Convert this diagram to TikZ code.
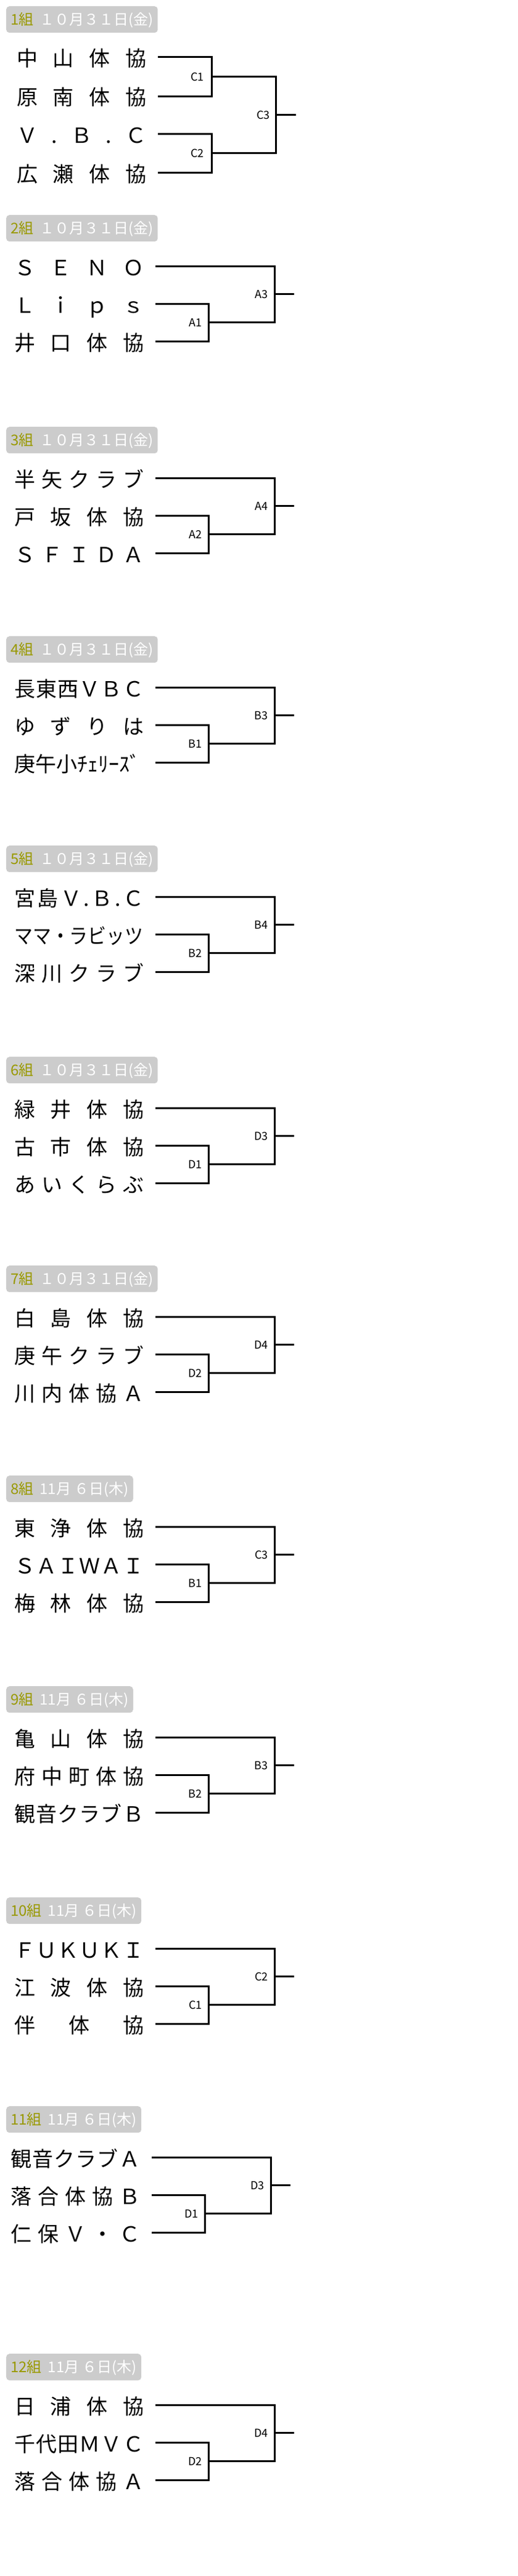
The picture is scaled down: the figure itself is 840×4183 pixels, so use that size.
\documentclass[tikz,border=0pt]{standalone}
\usepackage{fontspec}
\setmainfont{Noto Sans CJK JP}
\usepackage{graphicx}
\usepackage{tikz}
\usetikzlibrary{positioning}

\definecolor{hdrgray}{RGB}{204,204,204}
\definecolor{grpolive}{RGB}{153,153,0}

\tikzset{
	hdr/.style={anchor=north west, fill=hdrgray, rounded corners=5pt, minimum height=43pt, inner xsep=7pt, inner ysep=0pt, text height=21pt, text depth=3pt, text=white, font=\fontsize{24}{24}\selectfont},
	team/.style={anchor=west, inner xsep=19pt, inner ysep=0pt, text height=32pt, text depth=2pt, font=\fontsize{34}{34}\selectfont},
	lbl/.style={inner sep=0pt, font=\fontsize{18}{18}\selectfont},
	br/.style={line width=3pt}
}

\newcommand{\kumi}[1]{\textcolor{grpolive}{#1}\hspace{10pt}}
\newcommand{\nm}[1]{\makebox[210pt][s]{#1}}

% three teams: prefix, x shift, top, header, teams, labels
\newcommand{\sanban}[9]{
	\node[hdr] (#1h) at (10,#3) {#4};
	\node[team] (#1a) at ({4+#2},{#3+83}) {\nm{#5}};
	\node[team] (#1b) at ({4+#2},{#3+144}) {\nm{#6}};
	\node[team] (#1c) at ({4+#2},{#3+205}) {\nm{#7}};
	\coordinate (#1m) at ({338+#2},{#3+174.5});
	\coordinate (#1f) at ({445+#2},{#3+128.75});
	\coordinate (#1o) at ({477+#2},{#3+128.75});
	\draw[br] (#1b.east) -| (#1m) |- (#1c.east);
	\draw[br] (#1m) -| (#1f) |- (#1a.east);
	\draw[br] (#1f) -- (#1o);
	\node[lbl, left=10pt of #1m] (#1p) {#8};
	\node[lbl, left=10pt of #1f] (#1q) {#9};
}

\begin{document}
\begin{tikzpicture}[x=1pt,y=-1pt]
	\useasboundingbox (0,0) rectangle (840,4183);

	% 1組
	\node[hdr] (g1h) at (10,10) {\kumi{1組}１０月３１日(金)};
	\node[team] (g1a) at (8,93) {\nm{中\hfill 山\hfill 体\hfill 協}};
	\node[team] (g1b) at (8,156) {\nm{原\hfill 南\hfill 体\hfill 協}};
	\node[team] (g1c) at (8,217) {\nm{Ｖ\hfill .\hfill Ｂ\hfill .\hfill Ｃ}};
	\node[team] (g1d) at (8,280) {\nm{広\hfill 瀬\hfill 体\hfill 協}};
	\coordinate (g1m) at (343,124.5);
	\coordinate (g1n) at (343,248.5);
	\coordinate (g1f) at (447,186.5);
	\coordinate (g1o) at (480,186.5);
	\draw[br] (g1a.east) -| (g1m) |- (g1b.east);
	\draw[br] (g1c.east) -| (g1n) |- (g1d.east);
	\draw[br] (g1m) -| (g1f) |- (g1n);
	\draw[br] (g1f) -- (g1o);
	\node[lbl, left=12pt of g1m] (g1p) {C1};
	\node[lbl, left=12pt of g1n] (g1r) {C2};
	\node[lbl, left=9pt of g1f] (g1q) {C3};

	% 2組 - 12組
	\sanban{g2}{0}{349}{\kumi{2組}１０月３１日(金)}
		{Ｓ\hfill Ｅ\hfill Ｎ\hfill Ｏ}{Ｌ\hfill ｉ\hfill ｐ\hfill ｓ}{井\hfill 口\hfill 体\hfill 協}{A1}{A3}
	\sanban{g3}{0}{693}{\kumi{3組}１０月３１日(金)}
		{半\hfill 矢\hfill ク\hfill ラ\hfill ブ}{戸\hfill 坂\hfill 体\hfill 協}{Ｓ\hfill Ｆ\hfill Ｉ\hfill Ｄ\hfill Ａ}{A2}{A4}
	\sanban{g4}{0}{1033}{\kumi{4組}１０月３１日(金)}
		{長\hfill 東\hfill 西\hfill Ｖ\hfill Ｂ\hfill Ｃ}{ゆ\hfill ず\hfill り\hfill は}{庚午小ﾁｪﾘｰｽﾞ\hfill}{B1}{B3}
	\sanban{g5}{0}{1373}{\kumi{5組}１０月３１日(金)}
		{宮\hfill 島\hfill Ｖ\hfill .\hfill Ｂ\hfill .\hfill Ｃ}{\scalebox{0.88}[1]{ママ・ラビッツ}\hfill}{深\hfill 川\hfill ク\hfill ラ\hfill ブ}{B2}{B4}
	\sanban{g6}{0}{1716}{\kumi{6組}１０月３１日(金)}
		{緑\hfill 井\hfill 体\hfill 協}{古\hfill 市\hfill 体\hfill 協}{あ\hfill い\hfill く\hfill ら\hfill ぶ}{D1}{D3}
	\sanban{g7}{0}{2055}{\kumi{7組}１０月３１日(金)}
		{白\hfill 島\hfill 体\hfill 協}{庚\hfill 午\hfill ク\hfill ラ\hfill ブ}{川\hfill 内\hfill 体\hfill 協\hfill Ａ}{D2}{D4}
	\sanban{g8}{0}{2396}{\kumi{8組}11月 ６日(木)}
		{東\hfill 浄\hfill 体\hfill 協}{Ｓ\hfill Ａ\hfill Ｉ\hfill Ｗ\hfill Ａ\hfill Ｉ}{梅\hfill 林\hfill 体\hfill 協}{B1}{C3}
	\sanban{g9}{0}{2738}{\kumi{9組}11月 ６日(木)}
		{亀\hfill 山\hfill 体\hfill 協}{府\hfill 中\hfill 町\hfill 体\hfill 協}{観\hfill 音\hfill ク\hfill ラ\hfill ブ\hfill Ｂ}{B2}{B3}
	\sanban{g10}{0}{3081}{\kumi{10組}11月 ６日(木)}
		{Ｆ\hfill Ｕ\hfill Ｋ\hfill Ｕ\hfill Ｋ\hfill Ｉ}{江\hfill 波\hfill 体\hfill 協}{伴\hfill 体\hfill 協}{C1}{C2}
	\sanban{g11}{-6}{3420}{\kumi{11組}11月 ６日(木)}
		{観\hfill 音\hfill ク\hfill ラ\hfill ブ\hfill Ａ}{落\hfill 合\hfill 体\hfill 協\hfill Ｂ}{仁\hfill 保\hfill Ｖ\hfill ・\hfill Ｃ}{D1}{D3}
	\sanban{g12}{0}{3822}{\kumi{12組}11月 ６日(木)}
		{日\hfill 浦\hfill 体\hfill 協}{千\hfill 代\hfill 田\hfill Ｍ\hfill Ｖ\hfill Ｃ}{落\hfill 合\hfill 体\hfill 協\hfill Ａ}{D2}{D4}

\end{tikzpicture}
\end{document}
